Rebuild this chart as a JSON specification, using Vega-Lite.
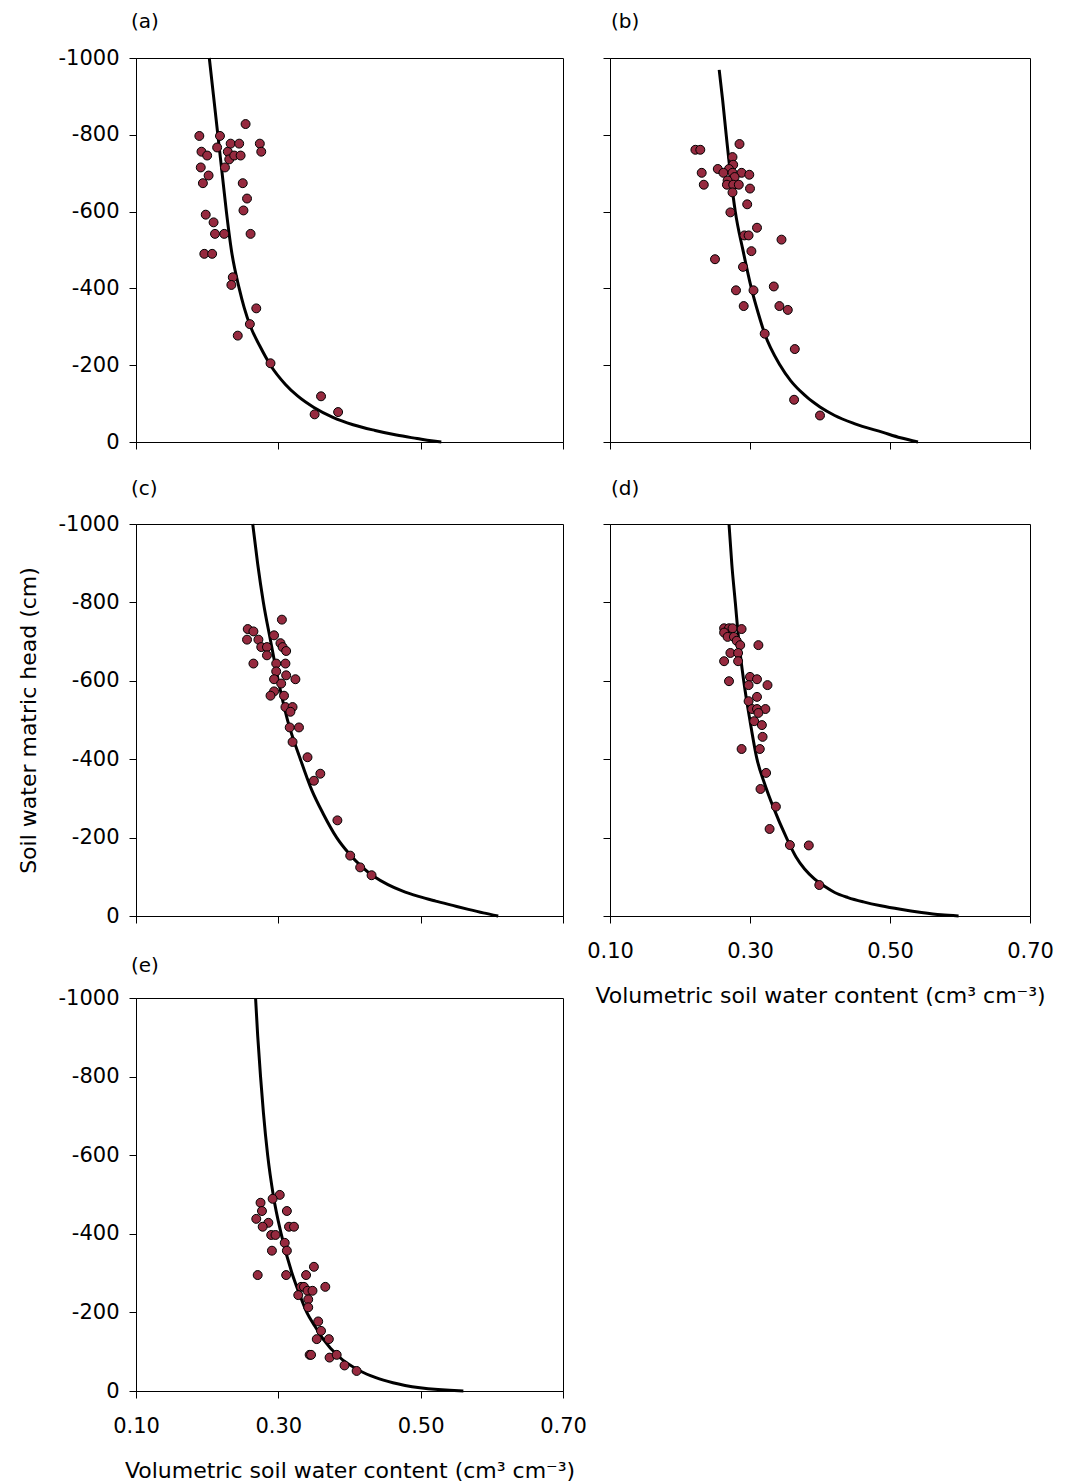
{
  "$schema": "https://vega.github.io/schema/vega-lite/v6.json",
  "background": "white",
  "padding": {"left": 17, "top": 11, "right": 5, "bottom": 0},
  "bounds": "flush",
  "columns": 2,
  "spacing": {"row": 82, "column": 47},
  "config": {
    "font": "DejaVu Sans",
    "view": {"stroke": "black", "strokeWidth": 1},
    "axis": {
      "domainColor": "black", "tickColor": "black", "labelColor": "black", "titleColor": "black",
      "labelFont": "DejaVu Sans", "titleFont": "DejaVu Sans", "labelFontSize": 21, "titleFontSize": 22,
      "titleFontWeight": "normal", "tickSize": 7, "grid": false, "labelFlush": false, "labelOverlap": false
    }
  },
  "datasets": {
    "curve_a": [
      {"theta": 0.203, "h": -1000}, {"theta": 0.209, "h": -900}, {"theta": 0.215, "h": -800}, {"theta": 0.221, "h": -700},
      {"theta": 0.227, "h": -600}, {"theta": 0.234, "h": -500}, {"theta": 0.245, "h": -400}, {"theta": 0.252, "h": -350},
      {"theta": 0.261, "h": -300}, {"theta": 0.274, "h": -250}, {"theta": 0.289, "h": -200}, {"theta": 0.31, "h": -150},
      {"theta": 0.327, "h": -120}, {"theta": 0.35, "h": -90}, {"theta": 0.376, "h": -65}, {"theta": 0.405, "h": -45},
      {"theta": 0.436, "h": -30}, {"theta": 0.466, "h": -18}, {"theta": 0.495, "h": -9}, {"theta": 0.515, "h": -3},
      {"theta": 0.529, "h": 0}
    ],
    "pts_a": [
      {"theta": 0.189, "h": -797}, {"theta": 0.218, "h": -797}, {"theta": 0.254, "h": -828}, {"theta": 0.192, "h": -756},
      {"theta": 0.2, "h": -746}, {"theta": 0.214, "h": -767}, {"theta": 0.229, "h": -756}, {"theta": 0.233, "h": -777},
      {"theta": 0.245, "h": -777}, {"theta": 0.231, "h": -736}, {"theta": 0.238, "h": -746}, {"theta": 0.247, "h": -746},
      {"theta": 0.274, "h": -777}, {"theta": 0.276, "h": -756}, {"theta": 0.191, "h": -715}, {"theta": 0.225, "h": -715},
      {"theta": 0.202, "h": -694}, {"theta": 0.194, "h": -674}, {"theta": 0.25, "h": -674}, {"theta": 0.256, "h": -634},
      {"theta": 0.251, "h": -603}, {"theta": 0.198, "h": -592}, {"theta": 0.209, "h": -572}, {"theta": 0.211, "h": -542},
      {"theta": 0.224, "h": -542}, {"theta": 0.261, "h": -542}, {"theta": 0.196, "h": -490}, {"theta": 0.207, "h": -490},
      {"theta": 0.236, "h": -429}, {"theta": 0.234, "h": -409}, {"theta": 0.269, "h": -348}, {"theta": 0.26, "h": -307},
      {"theta": 0.243, "h": -277}, {"theta": 0.289, "h": -205}, {"theta": 0.36, "h": -119}, {"theta": 0.351, "h": -72},
      {"theta": 0.384, "h": -78}
    ],
    "curve_b": [
      {"theta": 0.256, "h": -969}, {"theta": 0.261, "h": -889}, {"theta": 0.266, "h": -800}, {"theta": 0.272, "h": -698},
      {"theta": 0.279, "h": -600}, {"theta": 0.29, "h": -499}, {"theta": 0.302, "h": -400}, {"theta": 0.312, "h": -334},
      {"theta": 0.321, "h": -282}, {"theta": 0.343, "h": -200}, {"theta": 0.358, "h": -160}, {"theta": 0.371, "h": -134},
      {"theta": 0.4, "h": -91}, {"theta": 0.421, "h": -69}, {"theta": 0.449, "h": -48}, {"theta": 0.49, "h": -25},
      {"theta": 0.515, "h": -11}, {"theta": 0.54, "h": 0}
    ],
    "pts_b": [
      {"theta": 0.222, "h": -761}, {"theta": 0.229, "h": -761}, {"theta": 0.285, "h": -776}, {"theta": 0.275, "h": -742},
      {"theta": 0.276, "h": -722}, {"theta": 0.254, "h": -711}, {"theta": 0.27, "h": -711}, {"theta": 0.231, "h": -701},
      {"theta": 0.262, "h": -701}, {"theta": 0.275, "h": -701}, {"theta": 0.288, "h": -701}, {"theta": 0.299, "h": -696},
      {"theta": 0.278, "h": -690}, {"theta": 0.268, "h": -681}, {"theta": 0.267, "h": -670}, {"theta": 0.276, "h": -670},
      {"theta": 0.284, "h": -670}, {"theta": 0.234, "h": -670}, {"theta": 0.3, "h": -660}, {"theta": 0.275, "h": -650},
      {"theta": 0.296, "h": -619}, {"theta": 0.272, "h": -598}, {"theta": 0.31, "h": -558}, {"theta": 0.292, "h": -538},
      {"theta": 0.298, "h": -538}, {"theta": 0.345, "h": -527}, {"theta": 0.302, "h": -497}, {"theta": 0.25, "h": -476},
      {"theta": 0.29, "h": -456}, {"theta": 0.334, "h": -405}, {"theta": 0.28, "h": -395}, {"theta": 0.305, "h": -395},
      {"theta": 0.291, "h": -354}, {"theta": 0.342, "h": -354}, {"theta": 0.354, "h": -344}, {"theta": 0.321, "h": -282},
      {"theta": 0.364, "h": -242}, {"theta": 0.363, "h": -110}, {"theta": 0.4, "h": -69}
    ],
    "curve_c": [
      {"theta": 0.264, "h": -1000}, {"theta": 0.271, "h": -898}, {"theta": 0.279, "h": -800}, {"theta": 0.289, "h": -703},
      {"theta": 0.3, "h": -600}, {"theta": 0.313, "h": -499}, {"theta": 0.331, "h": -400}, {"theta": 0.347, "h": -321},
      {"theta": 0.363, "h": -261}, {"theta": 0.382, "h": -200}, {"theta": 0.399, "h": -160}, {"theta": 0.417, "h": -126},
      {"theta": 0.435, "h": -100}, {"theta": 0.454, "h": -80}, {"theta": 0.474, "h": -64}, {"theta": 0.497, "h": -50},
      {"theta": 0.521, "h": -38}, {"theta": 0.545, "h": -27}, {"theta": 0.567, "h": -17}, {"theta": 0.588, "h": -8},
      {"theta": 0.609, "h": 0}
    ],
    "pts_c": [
      {"theta": 0.305, "h": -756}, {"theta": 0.257, "h": -732}, {"theta": 0.265, "h": -726}, {"theta": 0.256, "h": -705},
      {"theta": 0.272, "h": -705}, {"theta": 0.294, "h": -716}, {"theta": 0.276, "h": -686}, {"theta": 0.284, "h": -686},
      {"theta": 0.303, "h": -696}, {"theta": 0.306, "h": -686}, {"theta": 0.311, "h": -676}, {"theta": 0.284, "h": -665},
      {"theta": 0.265, "h": -644}, {"theta": 0.297, "h": -644}, {"theta": 0.31, "h": -644}, {"theta": 0.297, "h": -624},
      {"theta": 0.311, "h": -614}, {"theta": 0.294, "h": -604}, {"theta": 0.324, "h": -604}, {"theta": 0.304, "h": -593},
      {"theta": 0.294, "h": -573}, {"theta": 0.289, "h": -562}, {"theta": 0.308, "h": -562}, {"theta": 0.31, "h": -533},
      {"theta": 0.32, "h": -533}, {"theta": 0.317, "h": -521}, {"theta": 0.316, "h": -481}, {"theta": 0.329, "h": -481},
      {"theta": 0.32, "h": -444}, {"theta": 0.341, "h": -405}, {"theta": 0.359, "h": -363}, {"theta": 0.35, "h": -345},
      {"theta": 0.383, "h": -244}, {"theta": 0.401, "h": -154}, {"theta": 0.415, "h": -124}, {"theta": 0.431, "h": -104}
    ],
    "curve_d": [
      {"theta": 0.27, "h": -1000}, {"theta": 0.274, "h": -898}, {"theta": 0.279, "h": -800}, {"theta": 0.284, "h": -702},
      {"theta": 0.291, "h": -600}, {"theta": 0.3, "h": -498}, {"theta": 0.31, "h": -400}, {"theta": 0.321, "h": -337},
      {"theta": 0.333, "h": -279}, {"theta": 0.352, "h": -200}, {"theta": 0.366, "h": -150}, {"theta": 0.378, "h": -120},
      {"theta": 0.392, "h": -95}, {"theta": 0.407, "h": -75}, {"theta": 0.421, "h": -60}, {"theta": 0.44, "h": -47},
      {"theta": 0.462, "h": -36}, {"theta": 0.487, "h": -26}, {"theta": 0.515, "h": -17}, {"theta": 0.545, "h": -9},
      {"theta": 0.573, "h": -3}, {"theta": 0.598, "h": 0}
    ],
    "pts_d": [
      {"theta": 0.263, "h": -734}, {"theta": 0.27, "h": -734}, {"theta": 0.275, "h": -734}, {"theta": 0.288, "h": -732},
      {"theta": 0.263, "h": -723}, {"theta": 0.268, "h": -712}, {"theta": 0.277, "h": -712}, {"theta": 0.281, "h": -702},
      {"theta": 0.286, "h": -691}, {"theta": 0.312, "h": -691}, {"theta": 0.272, "h": -671}, {"theta": 0.283, "h": -671},
      {"theta": 0.263, "h": -650}, {"theta": 0.283, "h": -650}, {"theta": 0.27, "h": -599}, {"theta": 0.3, "h": -610},
      {"theta": 0.31, "h": -604}, {"theta": 0.298, "h": -589}, {"theta": 0.325, "h": -589}, {"theta": 0.31, "h": -559},
      {"theta": 0.298, "h": -548}, {"theta": 0.303, "h": -528}, {"theta": 0.31, "h": -528}, {"theta": 0.322, "h": -528},
      {"theta": 0.312, "h": -518}, {"theta": 0.306, "h": -497}, {"theta": 0.317, "h": -487}, {"theta": 0.318, "h": -457},
      {"theta": 0.288, "h": -426}, {"theta": 0.314, "h": -426}, {"theta": 0.323, "h": -365}, {"theta": 0.315, "h": -324},
      {"theta": 0.337, "h": -279}, {"theta": 0.328, "h": -222}, {"theta": 0.357, "h": -181}, {"theta": 0.384, "h": -180},
      {"theta": 0.399, "h": -79}
    ],
    "curve_e": [
      {"theta": 0.268, "h": -1000}, {"theta": 0.271, "h": -904}, {"theta": 0.275, "h": -800}, {"theta": 0.279, "h": -709},
      {"theta": 0.285, "h": -600}, {"theta": 0.293, "h": -497}, {"theta": 0.304, "h": -400}, {"theta": 0.319, "h": -301},
      {"theta": 0.329, "h": -250}, {"theta": 0.34, "h": -200}, {"theta": 0.351, "h": -166}, {"theta": 0.363, "h": -132},
      {"theta": 0.384, "h": -89}, {"theta": 0.415, "h": -51}, {"theta": 0.437, "h": -34}, {"theta": 0.461, "h": -21},
      {"theta": 0.499, "h": -8}, {"theta": 0.56, "h": 0}
    ],
    "pts_e": [
      {"theta": 0.302, "h": -499}, {"theta": 0.292, "h": -489}, {"theta": 0.275, "h": -479}, {"theta": 0.277, "h": -458},
      {"theta": 0.312, "h": -458}, {"theta": 0.269, "h": -438}, {"theta": 0.286, "h": -428}, {"theta": 0.278, "h": -418},
      {"theta": 0.315, "h": -418}, {"theta": 0.322, "h": -418}, {"theta": 0.29, "h": -397}, {"theta": 0.296, "h": -397},
      {"theta": 0.309, "h": -377}, {"theta": 0.291, "h": -357}, {"theta": 0.312, "h": -357}, {"theta": 0.35, "h": -316},
      {"theta": 0.271, "h": -295}, {"theta": 0.311, "h": -295}, {"theta": 0.339, "h": -295}, {"theta": 0.332, "h": -265},
      {"theta": 0.336, "h": -265}, {"theta": 0.366, "h": -265}, {"theta": 0.341, "h": -255}, {"theta": 0.348, "h": -255},
      {"theta": 0.328, "h": -244}, {"theta": 0.342, "h": -233}, {"theta": 0.342, "h": -213}, {"theta": 0.356, "h": -177},
      {"theta": 0.36, "h": -153}, {"theta": 0.354, "h": -132}, {"theta": 0.371, "h": -132}, {"theta": 0.344, "h": -92},
      {"theta": 0.346, "h": -92}, {"theta": 0.372, "h": -85}, {"theta": 0.382, "h": -92}, {"theta": 0.393, "h": -65},
      {"theta": 0.41, "h": -51}
    ]
  },
  "concat": [
    {
      "width": 427, "height": 384,
      "title": {"text": "(a)", "dx": -5, "fontSize": 20, "font": "DejaVu Sans", "fontWeight": "normal", "anchor": "start", "frame": "group", "offset": 15.5, "color": "black"},
      "encoding": {
        "x": {"field": "theta", "type": "quantitative", "scale": {"domain": [0.1, 0.7], "nice": false, "zero": false},
              "axis": {"values": [0.1, 0.3, 0.5, 0.7], "labels": false, "title": null}},
        "y": {"field": "h", "type": "quantitative", "scale": {"domain": [-1000, 0], "reverse": true, "nice": false, "zero": false},
              "axis": {"values": [-1000, -800, -600, -400, -200, 0], "labelExpr": "'' + datum.value", "labelPadding": 10, "title": null}}
      },
      "layer": [
        {"data": {"name": "curve_a"}, "mark": {"type": "line", "color": "black", "strokeWidth": 3, "interpolate": "monotone"}},
        {"data": {"name": "pts_a"}, "mark": {"type": "circle", "fill": "#962a3f", "stroke": "black", "strokeWidth": 1, "size": 80, "opacity": 1}}
      ]
    },
    {
      "width": 420, "height": 384,
      "title": {"text": "(b)", "dx": 1, "fontSize": 20, "font": "DejaVu Sans", "fontWeight": "normal", "anchor": "start", "frame": "group", "offset": 26, "color": "black"},
      "encoding": {
        "x": {"field": "theta", "type": "quantitative", "scale": {"domain": [0.1, 0.7], "nice": false, "zero": false},
              "axis": {"values": [0.1, 0.3, 0.5, 0.7], "labels": false, "title": null}},
        "y": {"field": "h", "type": "quantitative", "scale": {"domain": [-1000, 0], "reverse": true, "nice": false, "zero": false},
              "axis": {"values": [-1000, -800, -600, -400, -200, 0], "labels": false, "title": null}}
      },
      "layer": [
        {"data": {"name": "curve_b"}, "mark": {"type": "line", "color": "black", "strokeWidth": 3, "interpolate": "monotone"}},
        {"data": {"name": "pts_b"}, "mark": {"type": "circle", "fill": "#962a3f", "stroke": "black", "strokeWidth": 1, "size": 80, "opacity": 1}}
      ]
    },
    {
      "width": 427, "height": 392,
      "title": {"text": "(c)", "dx": -5, "fontSize": 20, "font": "DejaVu Sans", "fontWeight": "normal", "anchor": "start", "frame": "group", "offset": 14.5, "color": "black"},
      "encoding": {
        "x": {"field": "theta", "type": "quantitative", "scale": {"domain": [0.1, 0.7], "nice": false, "zero": false},
              "axis": {"values": [0.1, 0.3, 0.5, 0.7], "labels": false, "title": null}},
        "y": {"field": "h", "type": "quantitative", "scale": {"domain": [-1000, 0], "reverse": true, "nice": false, "zero": false},
              "axis": {"values": [-1000, -800, -600, -400, -200, 0], "labelExpr": "'' + datum.value", "labelPadding": 10, "title": "Soil water matric head (cm)", "titlePadding": 17}}
      },
      "layer": [
        {"data": {"name": "curve_c"}, "mark": {"type": "line", "color": "black", "strokeWidth": 3, "interpolate": "monotone"}},
        {"data": {"name": "pts_c"}, "mark": {"type": "circle", "fill": "#962a3f", "stroke": "black", "strokeWidth": 1, "size": 80, "opacity": 1}}
      ]
    },
    {
      "width": 420, "height": 392,
      "title": {"text": "(d)", "dx": 1, "fontSize": 20, "font": "DejaVu Sans", "fontWeight": "normal", "anchor": "start", "frame": "group", "offset": 19, "color": "black"},
      "encoding": {
        "x": {"field": "theta", "type": "quantitative", "scale": {"domain": [0.1, 0.7], "nice": false, "zero": false},
              "axis": {"values": [0.1, 0.3, 0.5, 0.7], "format": ".2f", "labelPadding": 17, "title": "Volumetric soil water content (cm³ cm⁻³)", "titlePadding": 24}},
        "y": {"field": "h", "type": "quantitative", "scale": {"domain": [-1000, 0], "reverse": true, "nice": false, "zero": false},
              "axis": {"values": [-1000, -800, -600, -400, -200, 0], "labels": false, "title": null}}
      },
      "layer": [
        {"data": {"name": "curve_d"}, "mark": {"type": "line", "color": "black", "strokeWidth": 3, "interpolate": "monotone"}},
        {"data": {"name": "pts_d"}, "mark": {"type": "circle", "fill": "#962a3f", "stroke": "black", "strokeWidth": 1, "size": 80, "opacity": 1}}
      ]
    },
    {
      "width": 427, "height": 393,
      "title": {"text": "(e)", "dx": -5, "fontSize": 20, "font": "DejaVu Sans", "fontWeight": "normal", "anchor": "start", "frame": "group", "offset": 11.5, "color": "black"},
      "encoding": {
        "x": {"field": "theta", "type": "quantitative", "scale": {"domain": [0.1, 0.7], "nice": false, "zero": false},
              "axis": {"values": [0.1, 0.3, 0.5, 0.7], "format": ".2f", "labelPadding": 17, "title": "Volumetric soil water content (cm³ cm⁻³)", "titlePadding": 24}},
        "y": {"field": "h", "type": "quantitative", "scale": {"domain": [-1000, 0], "reverse": true, "nice": false, "zero": false},
              "axis": {"values": [-1000, -800, -600, -400, -200, 0], "labelExpr": "'' + datum.value", "labelPadding": 10, "title": null}}
      },
      "layer": [
        {"data": {"name": "curve_e"}, "mark": {"type": "line", "color": "black", "strokeWidth": 3, "interpolate": "monotone"}},
        {"data": {"name": "pts_e"}, "mark": {"type": "circle", "fill": "#962a3f", "stroke": "black", "strokeWidth": 1, "size": 80, "opacity": 1}}
      ]
    }
  ]
}
